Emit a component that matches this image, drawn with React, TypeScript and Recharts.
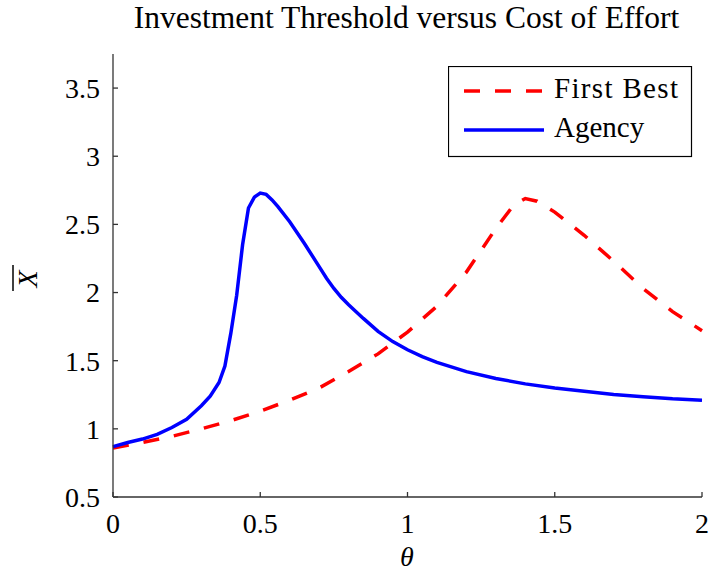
import React from 'react';
import { LineChart, Line, XAxis, YAxis, Legend, Label } from 'recharts';

const titleText = 'Investment Threshold versus Cost of Effort';
const seriesNames = ['First Best', 'Agency'];
const xTicks = [0, 0.5, 1, 1.5, 2];
const yTicks = [0.5, 1, 1.5, 2, 2.5, 3, 3.5];

const thetaFirstBest = [0, 0.1, 0.2, 0.3, 0.4, 0.5, 0.6, 0.7, 0.8, 0.9, 1.0, 1.1, 1.2, 1.3, 1.36, 1.4, 1.44, 1.5, 1.6, 1.7, 1.8, 1.9, 2.0];
const firstBestValues = [0.86, 0.9, 0.945, 1.0, 1.06, 1.13, 1.21, 1.3, 1.42, 1.55, 1.71, 1.9, 2.15, 2.47, 2.64, 2.69, 2.67, 2.59, 2.42, 2.23, 2.03, 1.86, 1.72];

const thetaAgency = [0, 0.05, 0.1, 0.15, 0.2, 0.25, 0.3, 0.33, 0.36, 0.38, 0.4, 0.42, 0.44, 0.46, 0.48, 0.5, 0.52, 0.54, 0.56, 0.6, 0.65, 0.7, 0.725, 0.75, 0.775, 0.8, 0.85, 0.9, 0.95, 1.0, 1.05, 1.1, 1.2, 1.3, 1.4, 1.5, 1.6, 1.7, 1.8, 1.9, 2.0];
const agencyValues = [0.87, 0.9, 0.925, 0.96, 1.01, 1.07, 1.17, 1.24, 1.34, 1.46, 1.7, 1.98, 2.35, 2.62, 2.7, 2.73, 2.72, 2.68, 2.63, 2.52, 2.36, 2.19, 2.105, 2.03, 1.965, 1.91, 1.81, 1.715, 1.64, 1.58, 1.53, 1.488, 1.42, 1.37, 1.33, 1.3, 1.275, 1.252, 1.235, 1.22, 1.21];

const firstBestData = thetaFirstBest.map((t, i) => ({ theta: t, value: firstBestValues[i] }));
const agencyData = thetaAgency.map((t, i) => ({ theta: t, value: agencyValues[i] }));

const FONT = "'Liberation Serif', 'Times New Roman', serif";
const AXIS = '#333333';
const RED = '#ff0000';
const BLUE = '#0000ff';

const YLabel = () => (
  <g transform="translate(37, 279) rotate(-90)">
    <text x={0} y={0} textAnchor="middle" fontFamily={FONT} fontStyle="italic" fontSize={28} fill="#000">X</text>
    <line x1={-12} x2={14} y1={-24} y2={-24} stroke="#000" strokeWidth={1.5} />
  </g>
);

const XLabel = () => (
  <text x={407} y={566} textAnchor="middle" fontFamily={FONT} fontStyle="italic" fontSize={28} fill="#000">θ</text>
);

const LegendBox = () => (
  <svg width={245} height={92} style={{ display: 'block' }}>
    <rect x={0.5} y={0.5} width={243} height={90} fill="#fff" stroke="#000" strokeWidth={1.2} />
    <line x1={16} x2={96} y1={25} y2={25} stroke={RED} strokeWidth={3.5} strokeDasharray="16 15" />
    <text x={106} y={32} fontFamily={FONT} fontSize={29} fill="#000" textLength={124} lengthAdjust="spacing">{seriesNames[0]}</text>
    <line x1={16} x2={96} y1={64} y2={64} stroke={BLUE} strokeWidth={3.5} />
    <text x={106} y={71} fontFamily={FONT} fontSize={29} fill="#000">{seriesNames[1]}</text>
  </svg>
);

export default function App() {
  const tickStyle = { fontFamily: FONT, fontSize: 28, fill: '#000' };
  return (
    <div style={{ position: 'absolute', left: 0, top: 0, width: 711, height: 575, background: '#fff' }}>
      <div style={{ position: 'absolute', left: 0, top: 0, width: 711, textAlign: 'center', fontFamily: FONT, fontSize: 31.5, lineHeight: '36px', paddingLeft: 102, boxSizing: 'border-box', color: '#000' }}>
        {titleText}
      </div>
      <LineChart width={711} height={575} margin={{ top: 54, right: 9, bottom: 0, left: 0 }}>
        <XAxis
          dataKey="theta"
          type="number"
          domain={[0, 2]}
          ticks={xTicks}
          allowDuplicatedCategory={false}
          height={78}
          stroke={AXIS}
          strokeWidth={1.3}
          tickSize={-5}
          tickMargin={21}
          tick={tickStyle}
          interval={0}
        >
          <Label content={<XLabel />} />
        </XAxis>
        <YAxis
          type="number"
          domain={[0.5, 3.75]}
          ticks={yTicks}
          width={113}
          stroke={AXIS}
          strokeWidth={1.3}
          tickSize={-5}
          tickMargin={18}
          tick={tickStyle}
          interval={0}
          allowDataOverflow
        >
          <Label content={<YLabel />} />
        </YAxis>
        <Legend
          layout="horizontal"
          verticalAlign="middle"
          align="center"
          wrapperStyle={{ position: 'absolute', left: 448, top: 66, width: 245, height: 92 }}
          content={<LegendBox />}
        />
        <Line
          data={firstBestData}
          dataKey="value"
          name={seriesNames[0]}
          type="linear"
          stroke={RED}
          strokeWidth={3.5}
          strokeDasharray="16 15"
          dot={false}
          activeDot={false}
          isAnimationActive={false}
        />
        <Line
          data={agencyData}
          dataKey="value"
          name={seriesNames[1]}
          type="linear"
          stroke={BLUE}
          strokeWidth={3.5}
          dot={false}
          activeDot={false}
          isAnimationActive={false}
        />
      </LineChart>
    </div>
  );
}
